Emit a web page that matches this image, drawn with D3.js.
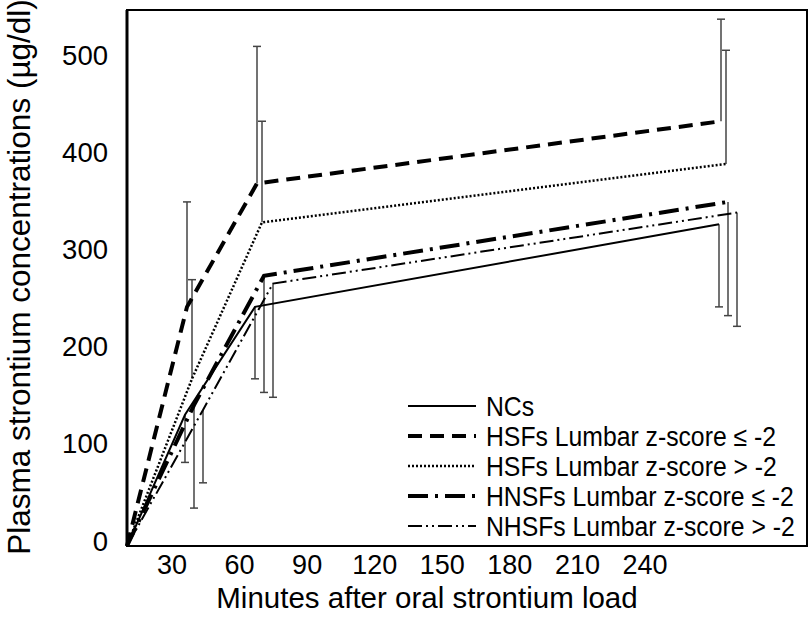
<!DOCTYPE html>
<html>
<head>
<meta charset="utf-8">
<script src="https://cdn.jsdelivr.net/npm/d3@7"></script>
<style>
  body { margin: 0; background: #fff; }
  text { font-family: "Liberation Sans", Arial, sans-serif; fill: #000; }
</style>
</head>
<body>
<div id="chart"></div>
<script>
// sampling times (minutes)
const times = [0, 30, 60, 240];
const tickLabels = [30, 60, 90, 120, 150, 180, 210, 240];
const yTicks = [0, 100, 200, 300, 400, 500];

const seriesNames = [
  "NCs",
  "HSFs Lumbar z-score \u2264 -2",
  "HSFs Lumbar z-score > -2",
  "HNSFs Lumbar z-score \u2264 -2",
  "NHSFs Lumbar z-score > -2"
];

// mean plasma strontium (µg/dl) at each time
const ncMeans    = [0, 135, 246, 331];
const hsfLoMeans = [0, 246, 373, 437];
const hsfHiMeans = [0, 172, 333, 393];
const hnsfMeans  = [0, 145, 278, 354];
const nhsfMeans  = [0, 140, 270, 343];

// end of the drawn error bar (one sided: up for HSFs, down for the others)
const ncErr    = [null, 86, 172, 246];
const hsfLoErr = [null, 354, 514, 542];
const hsfHiErr = [null, 274, 437, 510];
const hnsfErr  = [null, 39, 158, 237];
const nhsfErr  = [null, 65, 153, 226];

const allMeans = [ncMeans, hsfLoMeans, hsfHiMeans, hnsfMeans, nhsfMeans];
const allErr = [ncErr, hsfLoErr, hsfHiErr, hnsfErr, nhsfErr];

// line styles, one per series
const styles = [
  { width: 2,   dash: null,              dodge: -6 },
  { width: 4,   dash: "14,8",            dodge: -4 },
  { width: 2.5, dash: "2,2",             dodge: 1 },
  { width: 4,   dash: "20,7,3,7",        dodge: 3 },
  { width: 2,   dash: "14,4,2,4,2,4",    dodge: 12 }
];

const W = 810, H = 625;
const frame = { left: 127, right: 807, top: 10, bottom: 546 };

const svg = d3.select("#chart").append("svg")
  .attr("width", W)
  .attr("height", H);

// data positions (the original drawing spaces the time points unevenly)
const x = d3.scaleLinear().domain([0, 30, 60, 240]).range([127, 191, 261, 725]);
// tick label positions
const xTick = d3.scaleLinear().domain([30, 240]).range([172, 645]);
const y = d3.scaleLinear().domain([0, 500]).range([546, 60]);

function px(t, s) {
  return t === 0 ? x(0) : x(t) + styles[s].dodge;
}

// frame
svg.append("rect")
  .attr("x", frame.left)
  .attr("y", frame.top)
  .attr("width", frame.right - frame.left)
  .attr("height", frame.bottom - frame.top)
  .attr("fill", "none")
  .attr("stroke", "#000")
  .attr("stroke-width", 2);
svg.append("line")
  .attr("x1", frame.left).attr("x2", frame.left)
  .attr("y1", frame.top).attr("y2", frame.bottom)
  .attr("stroke", "#000")
  .attr("stroke-width", 3);

// y tick labels
svg.append("g").selectAll("text")
  .data(yTicks)
  .join("text")
    .attr("x", 108)
    .attr("y", d => y(d) - 5)
    .attr("dy", "0.35em")
    .attr("text-anchor", "end")
    .attr("font-size", 27.5)
    .text(d => d);

// x tick labels
svg.append("g").selectAll("text")
  .data(tickLabels)
  .join("text")
    .attr("x", d => xTick(d))
    .attr("y", 565)
    .attr("dy", "0.35em")
    .attr("text-anchor", "middle")
    .attr("font-size", 27)
    .text(d => d);

// axis titles
svg.append("text")
  .attr("transform", "translate(30,277) rotate(-90)")
  .attr("text-anchor", "middle")
  .attr("font-size", 31.5)
  .text("Plasma strontium concentrations (\u00b5g/dl)");

svg.append("text")
  .attr("x", 427)
  .attr("y", 608)
  .attr("text-anchor", "middle")
  .attr("font-size", 29.5)
  .text("Minutes after oral strontium load");

// error bars
const barGroup = svg.append("g").attr("class", "errorBars");
allErr.forEach(function(errs, s) {
  const pts = times.map((t, i) => ({ t: t, mean: allMeans[s][i], end: errs[i] }))
    .filter(d => d.end !== null);
  const g = barGroup.append("g");
  g.selectAll("line.bar")
    .data(pts)
    .join("line")
      .attr("class", "bar")
      .attr("x1", d => px(d.t, s))
      .attr("x2", d => px(d.t, s))
      .attr("y1", d => y(d.mean))
      .attr("y2", d => y(d.end))
      .attr("stroke", "#444")
      .attr("stroke-width", 1.5);
  g.selectAll("line.cap")
    .data(pts)
    .join("line")
      .attr("class", "cap")
      .attr("x1", d => px(d.t, s) - 4)
      .attr("x2", d => px(d.t, s) + 4)
      .attr("y1", d => y(d.end))
      .attr("y2", d => y(d.end))
      .attr("stroke", "#444")
      .attr("stroke-width", 1.5);
});

// series lines
const line = d3.line();
allMeans.forEach(function(means, s) {
  const pts = times.map((t, i) => [px(t, s), y(means[i])]);
  svg.append("path")
    .attr("d", line(pts))
    .attr("fill", "none")
    .attr("stroke", "#000")
    .attr("stroke-width", styles[s].width)
    .attr("stroke-dasharray", styles[s].dash);
});

// legend (text slightly condensed like the original)
const legend = svg.append("g").attr("class", "legend");
const legendY = d3.scalePoint().domain(d3.range(seriesNames.length)).range([406, 526]);
seriesNames.forEach(function(name, s) {
  const ly = legendY(s);
  legend.append("line")
    .attr("x1", 408)
    .attr("x2", 476)
    .attr("y1", ly)
    .attr("y2", ly)
    .attr("stroke", "#000")
    .attr("stroke-width", styles[s].width)
    .attr("stroke-dasharray", styles[s].dash);
  legend.append("text")
    .attr("transform", "translate(486," + ly + ") scale(0.9,1)")
    .attr("dy", "0.35em")
    .attr("font-size", 27.5)
    .text(name);
});
</script>
</body>
</html>
